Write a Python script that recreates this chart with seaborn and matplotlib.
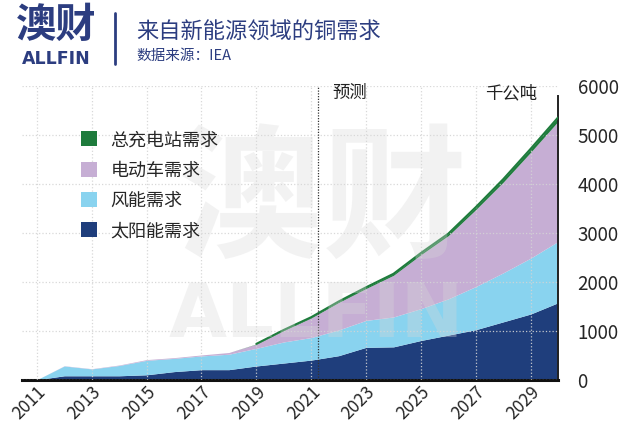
import numpy as np
import matplotlib
matplotlib.use("Agg")
import matplotlib.pyplot as plt
from matplotlib.patches import Patch
import seaborn as sns

# ------------------------------------------------------------------
# Data (千公吨)
# ------------------------------------------------------------------
years = list(range(2011, 2031))
solar = [0, 80, 80, 80, 100, 165, 205, 205, 280, 340,
         400, 490, 660, 670, 800, 910, 1020, 1180, 1340, 1570]
wind = [0, 200, 140, 210, 295, 270, 280, 315, 360, 430,
        460, 525, 550, 610, 650, 740, 880, 1000, 1140, 1250]
ev = [0, 5, 5, 10, 15, 15, 20, 35, 85, 235,
      400, 560, 650, 850, 1100, 1290, 1570, 1850, 2160, 2450]
charging = [0, 0, 0, 0, 0, 0, 0, 0, 5, 10,
            15, 20, 25, 30, 35, 40, 50, 60, 70, 80]

labels = ["太阳能需求", "风能需求", "电动车需求", "总充电站需求"]
colors = ["#1f3e7c", "#89d3ef", "#c6aed4", "#1e7b3c"]
xticks = list(range(2011, 2030, 2))
yticks = [0, 1000, 2000, 3000, 4000, 5000, 6000]
forecast_start = 2021.25

title = "来自新能源领域的铜需求"
subtitle = "数据来源：IEA"
navy = "#2c3d80"

sns.set_style("white")
plt.rcParams["font.family"] = ["Noto Sans CJK SC", "DejaVu Sans"]

fig = plt.figure(figsize=(6.4, 4.41), dpi=100)
ax = fig.add_axes([0.034, 0.139, 0.838, 0.667])

ax.stackplot(years, solar, wind, ev, charging, colors=colors, linewidth=0, zorder=2)

# green outline along the total
total = np.array(solar) + np.array(wind) + np.array(ev) + np.array(charging)
mask = np.array(years) >= 2019
sns.lineplot(x=np.array(years)[mask], y=total[mask], ax=ax, color=colors[3],
             linewidth=1.5, zorder=3)

ax.axvline(forecast_start, color="#333333", linestyle=(0, (1, 1.2)), linewidth=0.9, zorder=4)

ax.set_xlim(2010.45, 2030.0)
ax.set_ylim(0, 6000)
ax.set_xticks(xticks)
ax.set_yticks(yticks)
ax.yaxis.tick_right()
ax.tick_params(axis="y", length=0, pad=14, labelsize=13.5)
ax.tick_params(axis="x", length=0, pad=2, labelsize=12.5)
for lab in ax.get_xticklabels():
    lab.set_rotation(45)
    lab.set_ha("right")
    lab.set_rotation_mode("anchor")

ax.grid(True, color="#d4d4d4", linestyle=":", linewidth=0.9, alpha=0.9, zorder=3)
ax.set_axisbelow(False)

for s in ["left", "top"]:
    ax.spines[s].set_visible(False)
ax.spines["right"].set_color("#222222")
ax.spines["right"].set_linewidth(1.4)
ax.spines["right"].set_bounds(0, 5780)
ax.spines["bottom"].set_color("#111111")
ax.spines["bottom"].set_linewidth(2.2)

ax.text(2022.4, 5850, "预测", fontsize=12.5, ha="center", va="center", color="#222222")
ax.text(2028.3, 5850, "千公吨", fontsize=12.5, ha="center", va="center", color="#222222")

# watermark
ax.text(0.56, 0.60, "澳财", transform=ax.transAxes, fontsize=104, fontweight="bold",
        color="#d8d8d8", alpha=0.32, ha="center", va="center", zorder=5)
ax.text(0.55, 0.215, "ALLFIN", transform=ax.transAxes, fontsize=54, fontweight="bold",
        family="DejaVu Sans", color="#d8d8d8", alpha=0.32, ha="center", va="center", zorder=5)

# legend (top entry = charging)
handles = [Patch(facecolor=c, edgecolor="none") for c in colors[::-1]]
leg = ax.legend(handles, labels[::-1], loc="upper left", bbox_to_anchor=(0.08, 0.9),
                frameon=False, fontsize=13, handlelength=0.9, handleheight=0.9,
                handletextpad=0.75, labelspacing=0.68)
leg.set_zorder(6)

# header
fig.text(0.088, 0.942, "澳财", fontsize=29, fontweight="bold", color=navy,
         ha="center", va="center")
fig.text(0.088, 0.866, "ALLFIN", fontsize=12.5, fontweight="bold", family="DejaVu Sans",
         color=navy, ha="center", va="center")
fig.add_artist(plt.Line2D([0.18, 0.18], [0.855, 0.97], color=navy, linewidth=2,
                          transform=fig.transFigure))
fig.text(0.213, 0.926, title, fontsize=16, color=navy, ha="left", va="center")
fig.text(0.213, 0.873, subtitle, fontsize=10.5, color=navy, ha="left", va="center")

fig.savefig("out.png", dpi=100)
